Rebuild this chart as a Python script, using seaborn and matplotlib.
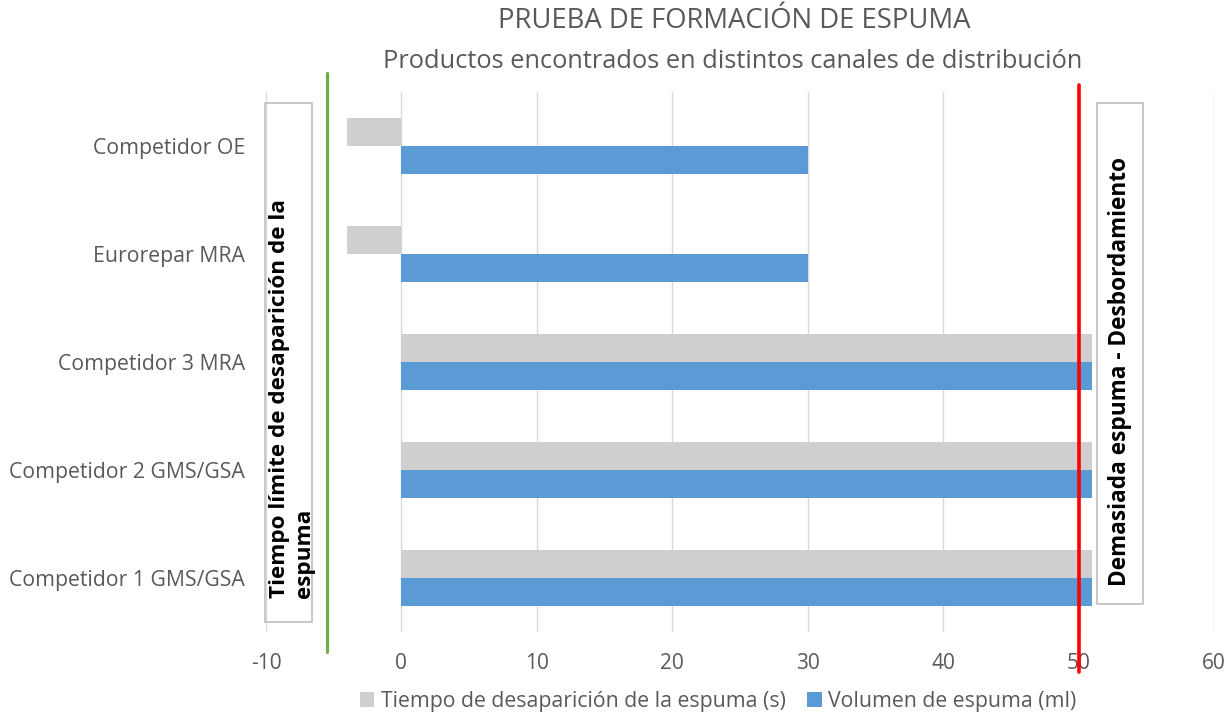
import pandas as pd
import numpy as np
import matplotlib
matplotlib.use("Agg")
import matplotlib.pyplot as plt
import seaborn as sns

# data
productos = ["Competidor OE", "Eurorepar MRA", "Competidor 3 MRA",
             "Competidor 2 GMS/GSA", "Competidor 1 GMS/GSA"]
tiempo = [-4, -4, 51, 51, 51]
volumen = [30, 30, 51, 51, 51]
series = ["Tiempo de desaparición de la espuma (s)", "Volumen de espuma (ml)"]
colores = ["#D0CECE", "#5B9BD5"]
xticks = [-10, 0, 10, 20, 30, 40, 50, 60]
limite_tiempo = -5.5
limite_volumen = 50

df = pd.DataFrame({
    "producto": productos * 2,
    "valor": tiempo + volumen,
    "serie": [series[0]] * len(productos) + [series[1]] * len(productos),
})

sns.set_style("white")
plt.rcParams["font.family"] = ["Open Sans", "DejaVu Sans"]
plt.rcParams["axes.unicode_minus"] = False
gris = "#595959"

fig = plt.figure(figsize=(12.31, 7.13), dpi=100)
ax = fig.add_axes([266 / 1231, 1 - 632 / 713, (1214 - 266) / 1231, (632 - 92) / 713])

sns.barplot(data=df, y="producto", x="valor", hue="serie", order=productos,
            hue_order=series, palette=colores, width=0.52, orient="h",
            saturation=1, linewidth=0, ax=ax, legend=True)

ax.set_xlim(-10, 60)
ax.set_xticks(xticks)
ax.set_xlabel("")
ax.set_ylabel("")
ax.grid(axis="x", color="#D9D9D9", lw=1)
ax.set_axisbelow(True)
for s in ax.spines.values():
    s.set_visible(False)
ax.tick_params(axis="x", length=0, pad=15, labelsize=15, labelcolor=gris)
ax.tick_params(axis="y", length=0, pad=15, labelsize=15.3, labelcolor=gris)

# limit lines
ax.axvline(limite_tiempo, ymin=-20 / 540, ymax=559 / 540, color="#70AD47", lw=2.3, clip_on=False)
ax.axvline(limite_volumen, ymin=-40 / 540, ymax=547 / 540, color="#FF0000", lw=2.6, clip_on=False)

# annotation boxes
tr = ax.get_xaxis_transform()
caja_izq = plt.Rectangle((-10.07, (632 - 622) / 540), 3.5, (622 - 103) / 540, transform=tr,
                         fill=False, ec="#BFBFBF", lw=1.2, clip_on=False)
caja_der = plt.Rectangle((51.37, (632 - 604) / 540), 3.4, (604 - 103) / 540, transform=tr,
                         fill=False, ec="#BFBFBF", lw=1.2, clip_on=False)
ax.add_patch(caja_izq)
ax.add_patch(caja_der)
ax.text(-8.05, (632 - 398) / 540, "Tiempo límite de desaparición de la\nespuma",
        transform=tr, rotation=90, ha="center", va="center", multialignment="left",
        fontsize=16.2, fontweight="bold", color="black", linespacing=1.25)
ax.text(53.07, (632 - 372) / 540, "Demasiada espuma - Desbordamiento",
        transform=tr, rotation=90, ha="center", va="center",
        fontsize=16.3, fontweight="bold", color="black")

# titles
fig.text(734 / 1231, 1 - 21 / 713, "PRUEBA DE FORMACIÓN DE ESPUMA", ha="center",
         va="center", fontsize=19.8, color=gris)
fig.text(733 / 1231, 1 - 62 / 713, "Productos encontrados en distintos canales de distribución",
         ha="center", va="center", fontsize=18.3, color=gris)

# legend at the bottom
handles, labels = ax.get_legend_handles_labels()
ax.get_legend().remove()
fig.legend(handles, labels, loc="center", bbox_to_anchor=(718 / 1231, 1 - 701 / 713),
           ncol=2, frameon=False, fontsize=15.3, labelcolor=gris, handlelength=0.7,
           handleheight=0.7, handletextpad=0.3, columnspacing=1.0)

fig.savefig("out.png", dpi=100)
